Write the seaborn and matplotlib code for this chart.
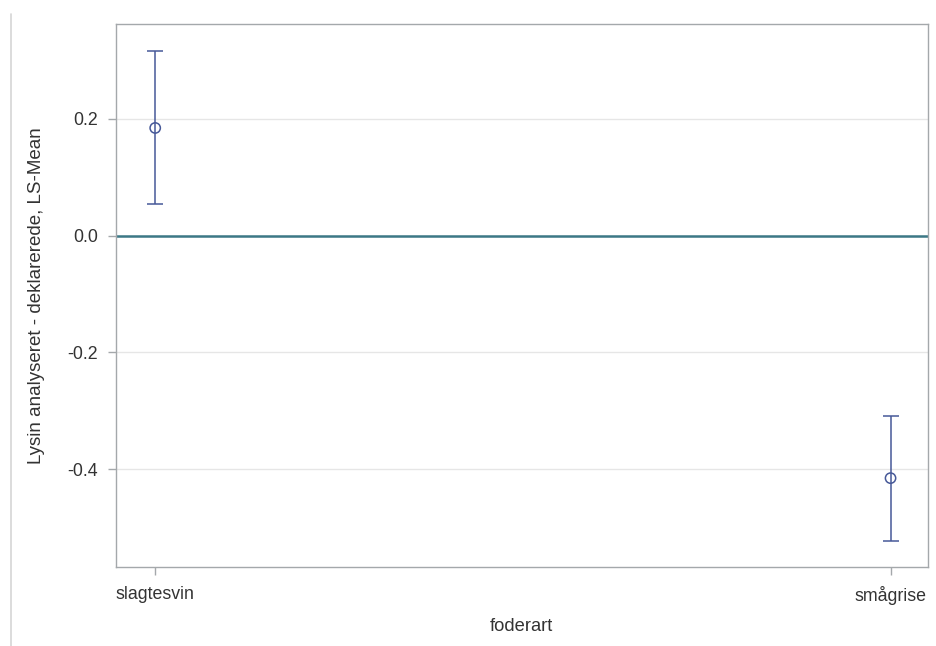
import matplotlib
matplotlib.use("Agg")
import matplotlib.pyplot as plt
from matplotlib.lines import Line2D
import seaborn as sns
import pandas as pd

# LS-means of lysine (analysed minus declared) per feed type, with confidence limits
categories = ["slagtesvin", "smågrise"]
lsmean = [0.184, -0.415]
lower = [0.054, -0.522]
upper = [0.315, -0.309]
yticks = [-0.4, -0.2, 0.0, 0.2]

df = pd.DataFrame({"foderart": categories, "lsmean": lsmean,
                   "lower": lower, "upper": upper})

sns.set_theme(style="white")
plt.rcParams["font.family"] = ["Liberation Sans", "DejaVu Sans"]
plt.rcParams["axes.unicode_minus"] = False

fig = plt.figure(figsize=(9.36, 6.46), dpi=100)
ax = fig.add_axes([0.1234, 0.1223, 0.8681, 0.8398])

blue = "#465898"
teal = "#3c7886"
frame = "#a4a8ab"
text = "#333333"

ax.set_axisbelow(True)
ax.yaxis.grid(True, color="#e6e6e6", linewidth=1.0)
ax.xaxis.grid(False)

ax.axhline(0.0, color=teal, linewidth=1.8, zorder=1)

yerr = [df["lsmean"] - df["lower"], df["upper"] - df["lsmean"]]
ax.errorbar(df["foderart"], df["lsmean"], yerr=yerr, fmt="none",
            ecolor=blue, elinewidth=1.1, capsize=5.5, capthick=1.1, zorder=3)
sns.scatterplot(data=df, x="foderart", y="lsmean", ax=ax, marker="o",
                s=55, facecolor="none", edgecolor=blue, linewidth=1.1,
                zorder=4, legend=False)

ax.set_xlim(-0.054, 1.051)
ax.set_ylim(-0.567, 0.361)
ax.set_yticks(yticks)
ax.set_yticklabels([f"{v:.1f}" for v in yticks])

for s in ax.spines.values():
    s.set_color(frame)
    s.set_linewidth(1.0)

ax.tick_params(axis="both", direction="out", length=6, width=1.0,
               color=frame, labelcolor=text, labelsize=12.8,
               left=True, bottom=True)
ax.tick_params(axis="x", pad=7.5)
ax.tick_params(axis="y", pad=6.5)

ax.set_xlabel("foderart", fontsize=13.2, color=text)
ax.set_ylabel("Lysin analyseret - deklarerede, LS-Mean", fontsize=13.5,
              color=text)
ax.xaxis.set_label_coords(0.5, -0.094)
ax.yaxis.set_label_coords(-0.0862, 0.5)

fig.add_artist(Line2D([10.5 / 936, 10.5 / 936], [0, 1 - 14 / 646],
                      transform=fig.transFigure, color="#d6d6d6",
                      linewidth=1.2))

fig.savefig("out.png", dpi=100)
